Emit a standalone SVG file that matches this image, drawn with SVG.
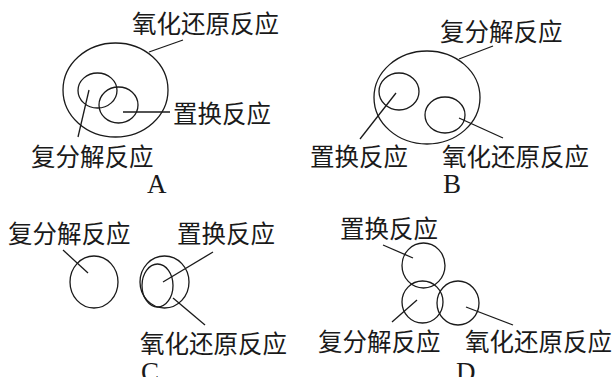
<svg xmlns="http://www.w3.org/2000/svg" width="615" height="377" viewBox="0 0 615 377">
<style>
.c{fill:none;stroke:#1a1a1a;stroke-width:1.3}
.l{stroke:#1a1a1a;stroke-width:1.3;fill:none}
.t{font-family:"Noto Sans CJK SC","Noto Sans",sans-serif;font-size:24.5px;fill:#1a1a1a}
.s{font-family:"Liberation Serif",serif;font-size:27px;fill:#1a1a1a}
</style>
<rect width="615" height="377" fill="#fff"/>
<g id="panelA">
<g id="A-redox"><ellipse class="c" cx="115.5" cy="90" rx="52.5" ry="47"/><text class="t" x="132" y="33">氧化还原反应</text></g>
<g id="A-decomp"><ellipse class="c" cx="97.5" cy="90.5" rx="19.5" ry="17.5"/><text class="t" x="31" y="166">复分解反应</text></g>
<g id="A-subst"><ellipse class="c" cx="118.5" cy="105" rx="19.5" ry="18"/><text class="t" x="173" y="123">置换反应</text></g>
<text class="s" x="147" y="193">A</text>
</g>
<g id="panelB">
<g id="B-decomp"><ellipse class="c" cx="427" cy="97.5" rx="53" ry="46.5"/><text class="t" x="440" y="41">复分解反应</text></g>
<g id="B-subst"><ellipse class="c" cx="399" cy="91.5" rx="20" ry="18.5"/><text class="t" x="310" y="166">置换反应</text></g>
<g id="B-redox"><ellipse class="c" cx="445" cy="115" rx="20" ry="18"/><text class="t" x="442" y="166">氧化还原反应</text></g>
<text class="s" x="443" y="193">B</text>
</g>
<g id="panelC">
<g id="C-decomp"><ellipse class="c" cx="94" cy="282" rx="24" ry="26"/><text class="t" x="8" y="243">复分解反应</text></g>
<g id="C-redox"><ellipse class="c" cx="164.5" cy="282" rx="24.5" ry="26"/><text class="t" x="140" y="353">氧化还原反应</text></g>
<g id="C-subst"><ellipse class="c" cx="157.5" cy="285.5" rx="15.5" ry="21.5"/><text class="t" x="177" y="243">置换反应</text></g>
<text class="s" x="141" y="381">C</text>
</g>
<g id="panelD">
<g id="D-subst"><ellipse class="c" cx="423.5" cy="265.5" rx="21.5" ry="22.5"/><text class="t" x="340" y="238">置换反应</text></g>
<g id="D-decomp"><ellipse class="c" cx="422.5" cy="302" rx="20.5" ry="21"/><text class="t" x="318" y="351">复分解反应</text></g>
<g id="D-redox"><ellipse class="c" cx="458" cy="303" rx="21" ry="22"/><text class="t" x="465" y="351">氧化还原反应</text></g>
<text class="s" x="456" y="381">D</text>
</g>
<g id="connectors">
<line class="l" x1="149" y1="52" x2="183" y2="40"/>
<line class="l" x1="123" y1="112" x2="170" y2="112"/>
<line class="l" x1="89" y1="90" x2="78" y2="137"/>
<line class="l" x1="459" y1="59" x2="493" y2="46"/>
<line class="l" x1="396" y1="93" x2="360" y2="139"/>
<line class="l" x1="459" y1="118" x2="503" y2="138"/>
<line class="l" x1="63" y1="250" x2="88" y2="273"/>
<line class="l" x1="163" y1="282" x2="213" y2="252"/>
<line class="l" x1="173" y1="298" x2="205" y2="325"/>
<line class="l" x1="383" y1="245" x2="413" y2="258"/>
<line class="l" x1="417" y1="300" x2="392" y2="322"/>
<line class="l" x1="466" y1="307" x2="513" y2="325"/>
</g>
</svg>
